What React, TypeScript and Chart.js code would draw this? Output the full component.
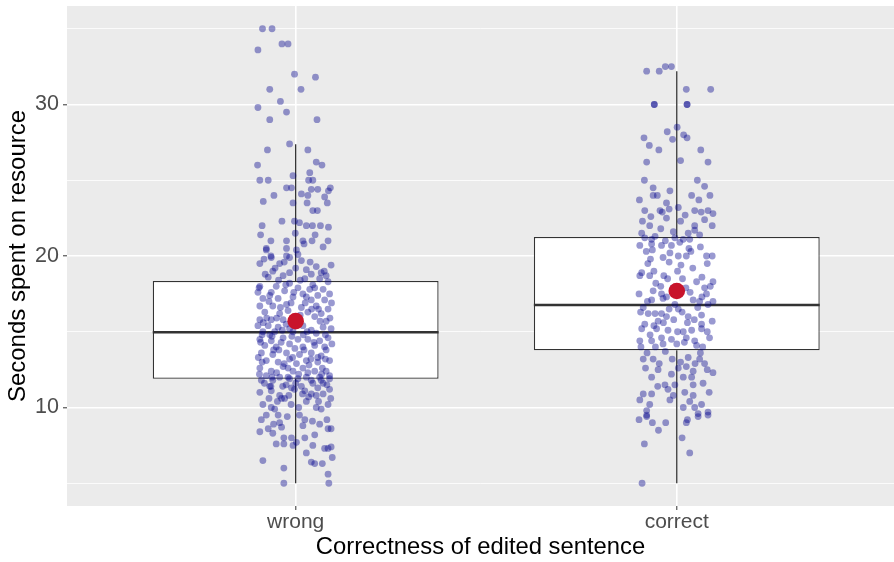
import React, { useEffect, useRef } from "react";
import { Chart, registerables } from "chart.js";

Chart.register(...registerables);

const categories = ["wrong", "correct"];
const yTickValues = [5, 10, 15, 20, 25, 30, 35];
const yLabelValues = [10, 20, 30];
const xTitle = "Correctness of edited sentence";
const yTitle = "Seconds spent on resource";

const boxQ1 = [11.9, 13.78];
const boxMedian = [14.97, 16.77];
const boxQ3 = [18.35, 21.25];
const whiskerLow = [5.0, 5.0];
const whiskerHigh = [27.37, 32.2];
const groupMeans = [15.7, 17.69];

// [horizontal jitter in hundredths of a category, seconds]
const wrongPoints: [number, number][] = [
  [-8.7, 35.0], [-6.2, 35.0], [-3.6, 34.0], [-2.0, 34.0], [-9.9, 33.6], [-0.3, 32.0], [5.2, 31.8], [-6.8, 31.0], [1.4, 31.0], [-4.0, 30.2],
  [-9.9, 29.8], [-2.4, 29.5], [-6.8, 29.0], [5.6, 29.0],
  [-1.6, 27.4], [-7.4, 27.0], [3.2, 27.0], [-10.0, 26.0], [5.4, 26.2], [6.9, 26.0], [3.7, 25.5], [-9.4, 25.0], [-7.2, 25.0], [-0.7, 25.3],
  [3.4, 25.0], [4.5, 25.0], [-2.4, 24.5], [-1.1, 24.5], [4.1, 24.4], [5.8, 24.4], [9.1, 24.5], [8.6, 24.3], [-5.7, 24.0], [1.5, 24.1],
  [3.2, 24.0], [7.6, 23.9], [-8.5, 23.6], [-0.7, 23.5], [3.0, 23.5], [8.3, 23.5], [4.5, 23.0], [5.7, 23.0], [-3.6, 22.3], [-0.3, 22.3],
  [1.0, 22.2], [-8.8, 22.0], [2.8, 22.0], [4.4, 22.0], [6.5, 22.0], [8.6, 21.9], [-0.1, 21.5], [-9.2, 21.4], [5.1, 21.4], [-6.5, 21.0],
  [-2.4, 21.0], [1.9, 21.0], [4.3, 21.0], [8.5, 21.0], [-7.7, 20.5], [2.2, 20.8], [-2.4, 20.5], [0.2, 20.4], [7.2, 20.6], [-7.7, 20.4],
  [-6.5, 20.0], [-2.4, 20.0], [0.6, 20.1],
  [-6.4, 19.9], [-1.6, 19.9], [1.5, 19.7], [-9.4, 19.5], [-4.2, 19.5], [2.8, 19.1], [5.4, 19.3], [9.3, 19.4], [-6.0, 19.0], [-1.6, 18.9],
  [4.1, 18.8], [6.7, 18.9], [-7.2, 18.6], [-3.3, 18.7], [2.4, 18.5], [6.3, 18.5], [8.5, 18.3], [-9.4, 18.0], [-5.1, 18.0], [-1.6, 18.2],
  [0.6, 17.9], [3.7, 17.8], [7.2, 17.8], [-9.9, 17.6], [-6.4, 17.6], [-2.9, 17.7], [1.9, 17.5], [5.8, 17.4], [8.9, 17.5], [-8.6, 17.2],
  [-4.6, 17.2], [-0.7, 17.3], [4.1, 17.1], [7.6, 17.1], [-9.4, 16.7], [-6.0, 16.7], [-2.4, 16.8], [1.5, 16.6], [5.4, 16.7], [8.5, 16.5],
  [-8.1, 16.3], [-4.2, 16.2], [3.2, 16.3], [6.7, 16.2], [-9.4, 15.8], [-6.4, 15.8], [-3.3, 15.8], [5.0, 16.0], [8.0, 15.7], [-9.9, 15.4],
  [-7.2, 15.4], [-4.6, 15.3], [-1.6, 15.2], [1.9, 15.4], [4.1, 15.1], [7.2, 15.3], [9.3, 15.2], [-8.6, 15.0], [-5.5, 15.0], [-0.7, 15.0],
  [5.4, 14.9], [-9.4, 14.5], [-6.4, 14.4], [-3.3, 14.6], [0.6, 14.5], [3.2, 14.5], [6.3, 14.4], [8.5, 14.6], [-8.1, 14.1], [-5.1, 14.0],
  [-1.6, 14.2], [1.9, 14.0], [5.0, 14.1], [7.6, 14.0], [-9.0, 13.6], [-6.0, 13.5], [-2.4, 13.6], [1.0, 13.5], [4.1, 13.6], [6.7, 13.4],
  [-7.7, 13.1], [-4.6, 13.0], [-1.6, 13.2], [0.2, 12.9], [2.8, 13.1], [5.8, 13.0], [8.9, 13.1], [-9.4, 12.6], [-6.4, 12.4], [-3.3, 12.7],
  [-0.7, 12.4], [1.9, 12.6], [5.0, 12.4], [8.0, 12.4], [-7.7, 12.1], [-4.2, 12.0], [-1.6, 11.9], [2.8, 12.0], [6.3, 12.0], [8.9, 12.1],
  [-9.0, 11.8], [-6.0, 11.8], [-2.0, 12.0], [0.6, 11.9], [4.1, 11.8], [6.7, 11.8], [8.9, 11.9], [-9.4, 11.0], [-6.4, 11.1], [-3.7, 10.6],
  [-2.9, 10.6], [-1.1, 11.3], [-0.3, 11.2], [2.4, 11.1], [4.1, 10.9], [7.2, 10.9], [8.9, 11.2], [-8.6, 10.2], [-6.4, 10.0], [-5.5, 9.9],
  [2.8, 10.4], [5.4, 10.0], [6.7, 9.9], [8.5, 10.2], [-7.7, 9.5], [-4.6, 9.5], [-4.2, 9.0], [-3.7, 8.7], [2.4, 9.2], [1.9, 8.8],
  [6.3, 8.9], [8.2, 9.2], [8.5, 8.6], [9.3, 8.6], [-9.4, 8.4], [-7.2, 8.6], [-6.0, 8.3], [-3.1, 8.0], [-1.1, 8.0], [2.4, 8.0],
  [5.0, 8.2], [-5.1, 7.6], [-3.1, 7.6], [-0.7, 7.5], [0.2, 7.7], [4.5, 7.5], [7.6, 7.3], [8.5, 7.3], [9.3, 7.4], [2.8, 7.0],
  [9.6, 6.7], [-8.6, 6.5], [4.1, 6.4], [5.0, 6.3], [7.0, 6.3], [-3.1, 6.0], [8.5, 5.6], [-3.1, 5.0], [8.7, 5.0], [-4.2, 10.8],
  [-6.8, 11.4], [7.2, 11.6], [5.4, 10.8], [1.5, 11.4],
  [-3.0, 19.6], [0.0, 19.2], [7.5, 19.0], [-8.0, 18.8], [-4.5, 18.4], [4.5, 18.1], [-0.5, 17.6], [-7.0, 17.0], [2.5, 16.9], [-2.0, 16.4],
  [6.0, 16.5], [-5.0, 15.9], [0.5, 15.6], [9.0, 15.9], [-8.5, 15.6], [-2.5, 15.5], [3.0, 15.0], [7.8, 14.8], [-6.8, 14.8], [-1.0, 14.7],
  [4.8, 14.3], [-9.2, 14.3], [-3.8, 14.3], [2.2, 13.8], [8.0, 13.8], [-5.8, 13.8], [-0.8, 13.3], [5.8, 13.3], [-8.8, 13.0], [-3.0, 12.9],
  [3.5, 12.8], [7.0, 12.6], [-5.0, 12.3], [0.8, 12.2], [-9.5, 12.2], [4.5, 11.6], [-2.5, 11.5], [8.2, 11.5], [-6.5, 11.4], [1.8, 10.9],
  [-4.8, 10.4], [6.0, 10.4], [-1.2, 10.2],
  [-8.3, 19.8], [3.8, 19.6], [-5.4, 19.2], [8.0, 18.7], [-2.6, 18.1], [1.2, 18.4], [-9.6, 17.9], [5.0, 17.9], [-6.8, 17.4], [2.8, 17.3],
  [-1.2, 16.9], [9.4, 16.9], [-4.0, 16.6], [4.2, 16.5], [-7.6, 15.9], [1.2, 16.1], [6.4, 15.7], [-3.5, 15.1], [-6.2, 14.7], [2.0, 14.8],
  [9.5, 14.2], [-8.8, 14.8], [-0.2, 13.9], [4.0, 13.2], [-4.4, 13.8], [7.8, 13.2], [-9.8, 13.3], [-2.0, 12.6], [3.2, 12.3], [6.8, 12.2],
  [-6.2, 12.0], [0.0, 11.6], [-8.2, 11.6], [-3.4, 11.4], [5.8, 11.3], [9.2, 10.6], [-1.8, 10.8], [3.4, 10.7], [-7.0, 10.6], [0.8, 10.0],
  [-9.0, 9.2], [-2.2, 9.4], [4.4, 9.1], [-5.8, 8.9], [1.0, 9.5],
];

const correctPoints: [number, number][] = [
  [-7.9, 32.2], [-4.6, 32.2], [-3.0, 32.5], [-1.4, 32.5], [2.5, 31.0], [8.9, 31.0], [-5.9, 30.0], [2.7, 30.0], [-5.9, 30.0], [2.7, 30.0],
  [0.1, 28.5], [-2.5, 28.2], [1.8, 28.0], [2.7, 27.8], [-8.6, 27.8], [-1.1, 27.7], [-7.2, 27.3], [-4.7, 27.0], [6.3, 27.0], [-7.9, 26.2],
  [1.0, 26.3], [8.2, 26.2], [-8.5, 25.0], [5.4, 25.0],
  [-6.2, 24.5], [-1.8, 24.3], [7.3, 24.6], [-9.8, 23.7], [-6.2, 24.0], [-5.1, 24.0], [3.9, 24.0], [5.8, 23.7], [8.7, 24.0], [-2.7, 23.5],
  [-8.4, 23.0], [-4.4, 23.0], [-2.0, 23.1], [0.4, 23.2], [4.7, 23.0], [8.2, 23.0], [9.5, 22.8], [-2.7, 22.5], [7.3, 22.4], [-7.1, 22.0],
  [4.7, 22.0], [9.3, 22.0], [-9.2, 21.5], [-5.7, 21.3], [-0.9, 21.6], [3.0, 21.5], [4.7, 21.7], [-8.4, 21.2], [-6.6, 21.1], [-0.5, 21.2],
  [1.7, 21.1], [3.4, 21.1], [-9.7, 20.7], [-6.6, 20.8], [-4.0, 20.7], [-1.4, 20.7], [0.8, 20.9], [-6.4, 20.4], [-1.8, 20.2], [0.4, 20.0],
  [2.5, 20.0], [3.7, 20.3], [7.8, 20.0], [9.3, 20.0], [-6.9, 19.8], [-3.6, 19.9], [1.1, 19.4], [8.0, 19.5], [-9.2, 18.9], [-9.7, 18.7],
  [-7.1, 18.7], [-3.4, 18.7], [6.6, 18.6], [9.5, 18.3], [-5.5, 18.2], [-4.2, 18.0], [-9.9, 17.5], [-6.2, 17.7], [-4.0, 17.5], [-2.7, 17.3],
  [7.3, 17.9], [7.8, 17.5], [6.6, 17.3],
  [-7.7, 17.0], [-3.6, 17.2], [4.3, 17.1], [6.0, 17.0], [9.5, 17.0], [0.4, 16.5], [-7.5, 16.2], [-5.7, 16.2], [-4.0, 16.2], [-2.7, 16.0],
  [3.0, 16.0], [6.5, 16.1], [-8.4, 15.5], [-4.9, 15.7], [6.5, 15.5], [9.3, 15.7], [-9.2, 15.2], [-5.3, 15.2], [-2.3, 15.1], [0.2, 15.0],
  [1.7, 15.0], [3.9, 15.1], [6.5, 15.2], [-9.7, 14.4], [-6.6, 14.4], [-4.0, 14.6], [-1.4, 14.5], [2.5, 14.6], [4.7, 14.4], [-9.4, 14.0],
  [-5.6, 14.0], [5.2, 14.1], [-8.8, 13.2], [-6.2, 13.2], [3.0, 13.3], [6.0, 13.2], [7.3, 12.9], [-4.9, 12.5], [2.5, 12.7], [4.3, 12.4],
  [9.5, 12.3], [-6.6, 12.0], [-1.4, 12.2], [1.7, 12.0], [3.9, 12.0], [-3.1, 11.5], [-0.5, 11.5], [4.3, 11.5], [6.9, 11.6], [-2.3, 11.2],
  [2.1, 11.0], [-8.8, 10.9], [-6.6, 10.9], [-0.9, 10.8], [4.3, 10.8], [-9.7, 10.5], [-7.1, 10.2], [3.4, 10.4], [6.5, 10.2], [-7.9, 9.8],
  [1.7, 10.0], [4.7, 10.0], [-7.9, 9.5], [5.6, 9.6], [8.2, 9.7],
  [-9.9, 9.2], [-7.9, 9.4], [-6.4, 9.0], [-4.8, 8.5], [-2.9, 9.0], [2.5, 9.0], [5.6, 9.4], [8.2, 9.5], [1.4, 8.0], [-8.5, 7.6],
  [3.4, 7.0], [-9.1, 5.0],
  [-4.2, 21.8], [1.0, 22.3], [6.0, 21.4], [-8.0, 20.3], [-2.0, 19.6], [4.2, 19.2], [-6.0, 19.0], [1.5, 18.5], [-1.0, 17.9], [8.8, 18.0],
  [3.5, 17.6], [-8.8, 16.6], [-0.5, 16.8], [5.5, 16.6], [-3.5, 15.6], [2.8, 15.6], [8.0, 15.0], [-7.0, 14.8], [0.0, 14.2], [6.8, 14.0],
  [-3.0, 13.7], [-8.2, 12.6], [1.0, 13.0], [4.8, 12.9], [-5.0, 11.4], [8.5, 11.0], [-1.8, 10.5], [2.8, 9.2],
  [-3.8, 22.9], [2.2, 22.7], [-6.8, 22.6], [6.4, 22.9], [-9.0, 22.3], [3.2, 20.5], [-3.0, 21.0], [6.2, 20.6], [-7.6, 19.5], [0.2, 19.0],
  [5.2, 18.3], [-2.4, 18.5], [2.4, 17.9], [-6.6, 17.1], [8.2, 16.8], [-2.0, 16.5], [1.4, 16.3], [-9.5, 16.3], [4.6, 15.8], [-6.0, 15.4],
  [-0.8, 15.8], [8.6, 14.6], [-3.6, 14.2], [2.0, 14.3], [-7.8, 13.6], [6.2, 13.6], [-1.2, 13.2], [-4.6, 12.9], [8.0, 12.5], [0.4, 12.6],
];

const FONT = "'Liberation Sans', Arial, Helvetica, sans-serif";
const DARK = "#333333";

export default function App() {
  const ref = useRef<HTMLCanvasElement>(null);

  useEffect(() => {
    document.body.style.margin = "0";
    const canvas = ref.current;
    if (!canvas) return;

    const boxHalf = 0.375;
    const toXY = (group: number, pts: [number, number][]) =>
      pts.map(([j, s]) => ({ x: group + j / 100, y: s }));

    const datasets: any[] = [];

    datasets.push({
      type: "bar",
      data: categories.map((_, i) => ({ x: i + 1, y: [boxQ1[i], boxQ3[i]] })),
      backgroundColor: "#FFFFFF",
      borderColor: DARK,
      borderWidth: 1.3,
      borderSkipped: false,
      categoryPercentage: 0.75,
      barPercentage: 1,
      order: 10,
    });

    categories.forEach((_, i) => {
      const c = i + 1;
      datasets.push({
        type: "line",
        data: [{ x: c, y: whiskerLow[i] }, { x: c, y: boxQ1[i] }],
        borderColor: DARK,
        borderWidth: 1.3,
        pointRadius: 0,
        fill: false,
        order: 9,
      });
      datasets.push({
        type: "line",
        data: [{ x: c, y: boxQ3[i] }, { x: c, y: whiskerHigh[i] }],
        borderColor: DARK,
        borderWidth: 1.3,
        pointRadius: 0,
        fill: false,
        order: 9,
      });
      datasets.push({
        type: "line",
        data: [{ x: c - boxHalf, y: boxMedian[i] }, { x: c + boxHalf, y: boxMedian[i] }],
        borderColor: DARK,
        borderWidth: 2.6,
        pointRadius: 0,
        fill: false,
        order: 8,
      });
    });

    datasets.push({
      type: "scatter",
      data: [...toXY(1, wrongPoints), ...toXY(2, correctPoints)],
      pointRadius: 3.4,
      pointBorderWidth: 0,
      pointBackgroundColor: "rgba(0, 0, 139, 0.4)",
      pointBorderColor: "rgba(0,0,0,0)",
      order: 5,
    });

    datasets.push({
      type: "scatter",
      data: categories.map((_, i) => ({ x: i + 1, y: groupMeans[i] })),
      pointRadius: 8.3,
      pointBorderWidth: 0,
      pointBackgroundColor: "#C8142B",
      pointBorderColor: "rgba(0,0,0,0)",
      order: 1,
    });

    const panelBg = {
      id: "panelBg",
      beforeDraw(chart: any) {
        const { ctx, chartArea } = chart;
        ctx.save();
        ctx.fillStyle = "#FFFFFF";
        ctx.fillRect(0, 0, chart.width, chart.height);
        ctx.fillStyle = "#EBEBEB";
        ctx.fillRect(chartArea.left, chartArea.top, chartArea.right - chartArea.left, chartArea.bottom - chartArea.top);
        ctx.restore();
      },
    };

    const chart = new Chart(canvas, {
      type: "scatter",
      data: { datasets },
      plugins: [panelBg],
      options: {
        responsive: false,
        animation: false,
        events: [],
        layout: { autoPadding: false, padding: { top: 6, right: 0, bottom: 0, left: 0 } },
        plugins: { legend: { display: false }, tooltip: { enabled: false } },
        scales: {
          x: {
            type: "linear",
            min: 0.4,
            max: 2.57,
            offset: false,
            afterBuildTicks: (s: any) => {
              s.ticks = categories.map((_, i) => ({ value: i + 1 }));
            },
            afterFit: (s: any) => {
              s.height = 56;
              s.paddingLeft = 0;
              s.paddingRight = 0;
            },
            border: { display: false },
            grid: { offset: false, color: "#FFFFFF", lineWidth: 1.6, tickColor: DARK, tickLength: 4, tickWidth: 1 },
            ticks: {
              autoSkip: false,
              maxRotation: 0,
              padding: 0,
              color: "#4D4D4D",
              font: { family: FONT, size: 21 },
              callback: (_v: any, i: number) => categories[i],
            },
            title: {
              display: true,
              text: xTitle,
              color: "#000000",
              font: { family: FONT, size: 23.8 },
              padding: { top: 0, bottom: 0 },
            },
          },
          y: {
            type: "linear",
            min: 3.5,
            max: 36.5,
            afterBuildTicks: (s: any) => {
              s.ticks = yTickValues.map((v) => ({ value: v }));
            },
            afterFit: (s: any) => {
              s.width = 67;
              s.paddingTop = 0;
              s.paddingBottom = 0;
            },
            border: { display: false },
            grid: {
              color: "#FFFFFF",
              lineWidth: (ctx: any) => (ctx.tick && yLabelValues.includes(ctx.tick.value) ? 1.6 : 0.8),
              tickColor: (ctx: any) => (ctx.tick && yLabelValues.includes(ctx.tick.value) ? DARK : "rgba(0,0,0,0)"),
              tickLength: 4,
              tickWidth: 1,
            },
            ticks: {
              padding: 4,
              color: "#4D4D4D",
              font: { family: FONT, size: 21.5 },
              callback: (v: any) => (yLabelValues.includes(Number(v)) ? String(v) : ""),
            },
            title: {
              display: true,
              text: yTitle,
              color: "#000000",
              font: { family: FONT, size: 24 },
              padding: { top: 4, bottom: 0 },
            },
          },
        },
      } as any,
    });

    return () => chart.destroy();
  }, []);

  return <canvas ref={ref} width={894} height={562} style={{ display: "block" }} />;
}
